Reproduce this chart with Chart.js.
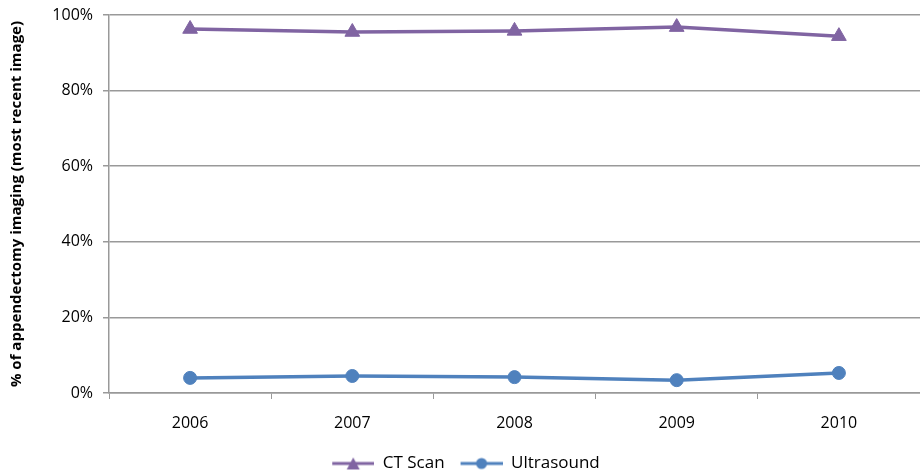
<!DOCTYPE html>
<html>
<head>
<meta charset="utf-8">
<script src="https://cdn.jsdelivr.net/npm/chart.js@4.4.1/dist/chart.umd.min.js"></script>
<style>
  html, body { margin: 0; padding: 0; background: #fff; }
  #wrap { width: 920px; height: 473px; }
</style>
</head>
<body>
<div id="wrap"><canvas id="chart"></canvas></div>
<script>
const years = ["2006", "2007", "2008", "2009", "2010"];
const ctScan = [96.3, 95.5, 95.8, 96.8, 94.4];
const ultrasound = [4.0, 4.5, 4.2, 3.4, 5.3];
const yTicks = [0, 20, 40, 60, 80, 100];

const purple = "#8064A2";
const blue = "#4F81BD";
const grid = "#999999";
const font = "'Open Sans', sans-serif";

// legend sample: short line with the marker on it (blank gap on the left)
function legendIcon(color, shape) {
  const c = document.createElement("canvas");
  c.width = 54; c.height = 14;
  const g = c.getContext("2d");
  g.strokeStyle = color; g.fillStyle = color; g.lineWidth = 3;
  g.beginPath(); g.moveTo(12, 7); g.lineTo(54, 7); g.stroke();
  g.beginPath();
  if (shape === "tri") {
    g.moveTo(33, 1); g.lineTo(39.5, 13); g.lineTo(26.5, 13); g.closePath();
  } else {
    g.arc(33, 7, 5.5, 0, Math.PI * 2);
  }
  g.fill();
  return c;
}

new Chart(document.getElementById("chart"), {
  type: "line",
  data: {
    labels: years,
    datasets: [
      {
        label: "CT Scan",
        data: ctScan,
        borderColor: purple,
        backgroundColor: purple,
        borderWidth: 3.5,
        pointStyle: "triangle",
        pointRadius: 8.5,
        pointBorderWidth: 1,
        pointHoverRadius: 8.5,
        tension: 0
      },
      {
        label: "Ultrasound",
        data: ultrasound,
        borderColor: blue,
        backgroundColor: blue,
        borderWidth: 3.5,
        pointStyle: "circle",
        pointRadius: 6.5,
        pointBorderWidth: 1,
        pointHoverRadius: 6.5,
        tension: 0
      }
    ]
  },
  options: {
    responsive: true,
    maintainAspectRatio: false,
    animation: false,
    layout: { autoPadding: false, padding: { top: 15, right: 0, left: 0, bottom: -9 } },
    plugins: {
      tooltip: { enabled: false },
      legend: {
        position: "bottom",
        labels: {
          usePointStyle: true,
          pointStyleWidth: 54,
          boxHeight: 14,
          color: "#000",
          font: { family: font, size: 17 },
          padding: 4,
          generateLabels: chart => chart.data.datasets.map((ds, i) => ({
            text: ds.label,
            pointStyle: legendIcon(ds.borderColor, i === 0 ? "tri" : "circle"),
            fillStyle: ds.borderColor,
            strokeStyle: ds.borderColor,
            lineWidth: 0,
            datasetIndex: i,
            fontColor: "#000"
          }))
        }
      }
    },
    scales: {
      x: {
        offset: true,
        grid: { offset: true, drawOnChartArea: false, color: grid, tickLength: 6 },
        border: { color: grid, width: 1.5 },
        ticks: { color: "#000", padding: 15, font: { family: font, size: 16 } },
        afterFit: s => { s.height = 58; s.paddingLeft = 0; s.paddingRight = 0; }
      },
      y: {
        min: 0,
        max: 100,
        afterBuildTicks: s => { s.ticks = yTicks.map(v => ({ value: v })); },
        grid: { color: grid, lineWidth: 1.5, tickLength: 6 },
        border: { color: grid, width: 1.5 },
        ticks: {
          color: "#000",
          padding: 10,
          font: { family: font, size: 16 },
          callback: v => v + "%"
        },
        title: {
          display: true,
          text: "% of appendectomy imaging (most recent image)",
          color: "#000",
          font: { family: font, size: 15, weight: "bold" },
          padding: { top: 8, bottom: 0 }
        },
        afterFit: s => { s.width = 109; s.paddingTop = 0; s.paddingBottom = 0; }
      }
    }
  }
});
</script>
</body>
</html>
